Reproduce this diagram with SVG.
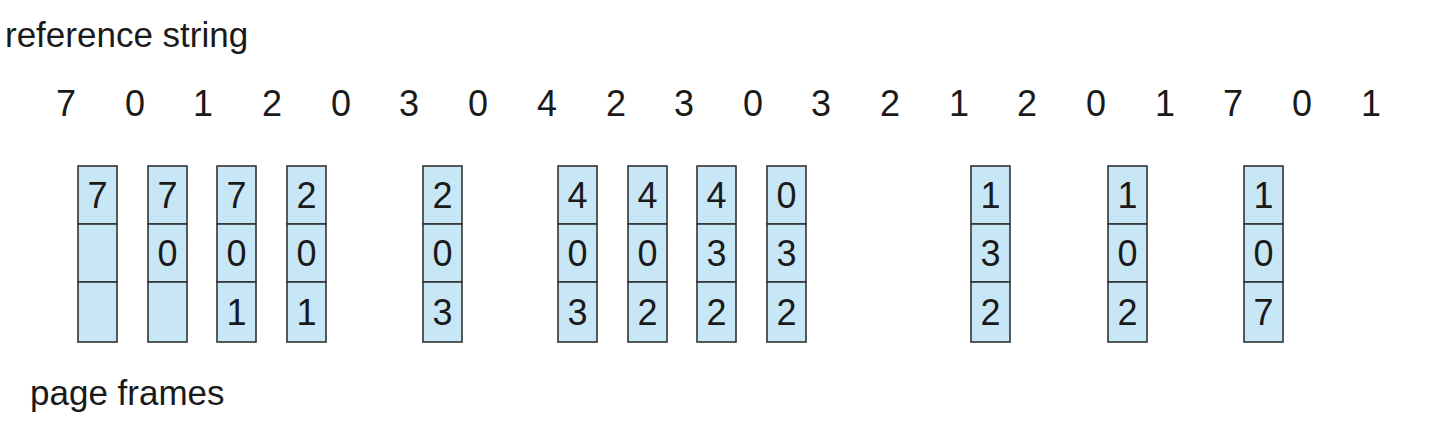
<svg xmlns="http://www.w3.org/2000/svg" width="1449" height="446" viewBox="0 0 1449 446">
<style>
text{font-family:"Liberation Sans",Arial,sans-serif;fill:#1a1a1a}
.lbl{font-size:35px}
.ref{font-size:36px;text-anchor:middle}
.d{font-size:36px;text-anchor:middle}
.cell{fill:#c8e7f6;stroke:#333;stroke-width:1.6}
</style>
<rect width="1449" height="446" fill="#fff"/>
<text class="lbl" x="5" y="47">reference string</text>
<text class="lbl" x="30" y="405">page frames</text>
<g id="refstring">
<text class="ref" x="66" y="116">7</text>
<text class="ref" x="135" y="116">0</text>
<text class="ref" x="203" y="116">1</text>
<text class="ref" x="272" y="116">2</text>
<text class="ref" x="341" y="116">0</text>
<text class="ref" x="409" y="116">3</text>
<text class="ref" x="478" y="116">0</text>
<text class="ref" x="547" y="116">4</text>
<text class="ref" x="616" y="116">2</text>
<text class="ref" x="684" y="116">3</text>
<text class="ref" x="753" y="116">0</text>
<text class="ref" x="821" y="116">3</text>
<text class="ref" x="890" y="116">2</text>
<text class="ref" x="959" y="116">1</text>
<text class="ref" x="1027" y="116">2</text>
<text class="ref" x="1096" y="116">0</text>
<text class="ref" x="1165" y="116">1</text>
<text class="ref" x="1233" y="116">7</text>
<text class="ref" x="1302" y="116">0</text>
<text class="ref" x="1371" y="116">1</text>
</g>
<defs>
<g id="frame">
<rect class="cell" x="0" y="0" width="39" height="58"/>
<rect class="cell" x="0" y="58" width="39" height="58"/>
<rect class="cell" x="0" y="116" width="39" height="60"/>
</g>
</defs>
<g id="f1" transform="translate(78,166)"><use href="#frame"/><text class="d" x="19.5" y="42">7</text></g>
<g id="f2" transform="translate(148,166)"><use href="#frame"/><text class="d" x="19.5" y="42">7</text><text class="d" x="19.5" y="100">0</text></g>
<g id="f3" transform="translate(217,166)"><use href="#frame"/><text class="d" x="19.5" y="42">7</text><text class="d" x="19.5" y="100">0</text><text class="d" x="19.5" y="159">1</text></g>
<g id="f4" transform="translate(287,166)"><use href="#frame"/><text class="d" x="19.5" y="42">2</text><text class="d" x="19.5" y="100">0</text><text class="d" x="19.5" y="159">1</text></g>
<g id="f5" transform="translate(423,166)"><use href="#frame"/><text class="d" x="19.5" y="42">2</text><text class="d" x="19.5" y="100">0</text><text class="d" x="19.5" y="159">3</text></g>
<g id="f6" transform="translate(558,166)"><use href="#frame"/><text class="d" x="19.5" y="42">4</text><text class="d" x="19.5" y="100">0</text><text class="d" x="19.5" y="159">3</text></g>
<g id="f7" transform="translate(628,166)"><use href="#frame"/><text class="d" x="19.5" y="42">4</text><text class="d" x="19.5" y="100">0</text><text class="d" x="19.5" y="159">2</text></g>
<g id="f8" transform="translate(697,166)"><use href="#frame"/><text class="d" x="19.5" y="42">4</text><text class="d" x="19.5" y="100">3</text><text class="d" x="19.5" y="159">2</text></g>
<g id="f9" transform="translate(767,166)"><use href="#frame"/><text class="d" x="19.5" y="42">0</text><text class="d" x="19.5" y="100">3</text><text class="d" x="19.5" y="159">2</text></g>
<g id="f10" transform="translate(971,166)"><use href="#frame"/><text class="d" x="19.5" y="42">1</text><text class="d" x="19.5" y="100">3</text><text class="d" x="19.5" y="159">2</text></g>
<g id="f11" transform="translate(1108,166)"><use href="#frame"/><text class="d" x="19.5" y="42">1</text><text class="d" x="19.5" y="100">0</text><text class="d" x="19.5" y="159">2</text></g>
<g id="f12" transform="translate(1244,166)"><use href="#frame"/><text class="d" x="19.5" y="42">1</text><text class="d" x="19.5" y="100">0</text><text class="d" x="19.5" y="159">7</text></g>
<g id="connectors"/>
</svg>
